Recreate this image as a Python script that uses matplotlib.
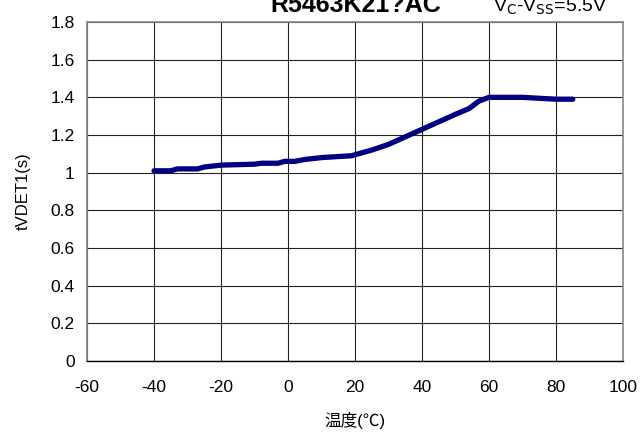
import matplotlib
matplotlib.use('Agg')
import matplotlib.pyplot as plt

plt.rcParams['font.family'] = ['Liberation Sans', 'Noto Sans CJK JP', 'DejaVu Sans']
plt.rcParams['axes.unicode_minus'] = False

# 温度 vs tVDET1
temp = [-40, -35, -33, -27, -25, -20, -10, -8, -3, -1, 2, 5, 10, 19, 25, 30,
        35, 40, 45, 50, 54, 57, 60, 70, 75, 80, 85]
tvdet = [1.01, 1.01, 1.02, 1.02, 1.03, 1.04, 1.045, 1.05, 1.05, 1.06, 1.06, 1.07,
         1.08, 1.09, 1.12, 1.15, 1.19, 1.23, 1.27, 1.31, 1.34, 1.38, 1.40, 1.40,
         1.395, 1.39, 1.39]
xticks = [-60, -40, -20, 0, 20, 40, 60, 80, 100]
yticks = [0, 0.2, 0.4, 0.6, 0.8, 1, 1.2, 1.4, 1.6, 1.8]
ytick_labels = ['0', '0.2', '0.4', '0.6', '0.8', '1', '1.2', '1.4', '1.6', '1.8']

fig = plt.figure(figsize=(6.4, 4.41), dpi=100)
ax = fig.add_axes([87 / 640, 1 - 361 / 441, 536 / 640, 339 / 441])

ax.plot(temp, tvdet, color='#000080', linewidth=3.8, solid_capstyle='round')

ax.set_xlim(-60, 100)
ax.set_ylim(0, 1.8)
ax.set_xticks(xticks)
ax.set_yticks(yticks)
ax.set_yticklabels(ytick_labels)
ax.grid(True, color='#222222', linewidth=0.8)
ax.set_axisbelow(True)
ax.tick_params(length=0, labelsize=12.5)
ax.tick_params(axis='y', pad=9)
ax.tick_params(axis='x', pad=14)

for side in ['left', 'top', 'right']:
    ax.spines[side].set_color('#888888')
    ax.spines[side].set_linewidth(1.2)
ax.spines['bottom'].set_color('black')
ax.spines['bottom'].set_linewidth(1.0)

ax.set_xlabel('温度(℃)', fontsize=12, labelpad=12)
ax.set_ylabel('tVDET1(s)', fontsize=12, labelpad=14)

# 标题 (上部被裁掉)
fig.text(356 / 640, 1 - 12 / 441, 'R5463K21?AC', fontsize=18, fontweight='bold',
         ha='center', va='baseline')
fig.text(550 / 640, 1 - 12 / 441, r'V$_{\rm C}$-V$_{\rm SS}$=5.5V', fontsize=14,
         ha='center', va='baseline')

fig.savefig('out.png', dpi=100)
